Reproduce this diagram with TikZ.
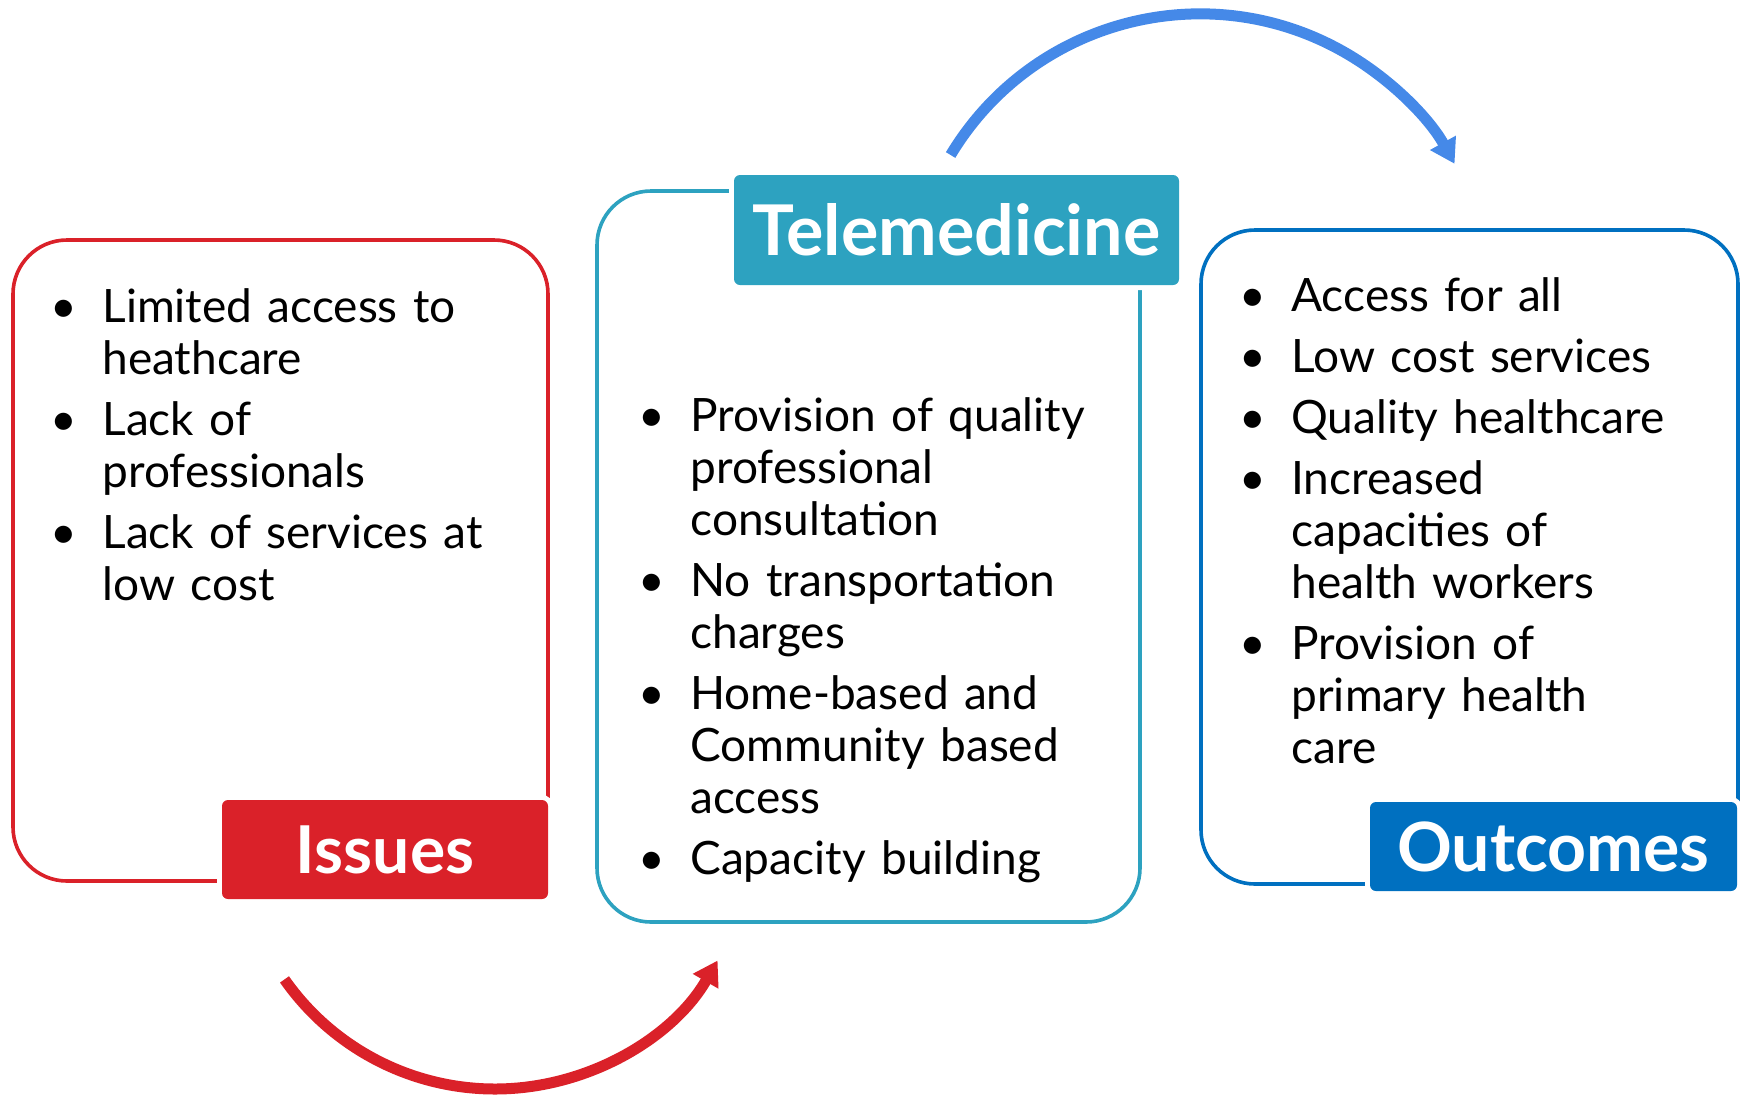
\documentclass[tikz,border=0pt]{standalone}
\usepackage{fontspec}
\setmainfont{Lato}
\usepackage{enumitem}
\usetikzlibrary{arrows.meta}
\usetikzlibrary{positioning}

\definecolor{issuered}{RGB}{218,33,41}
\definecolor{teleteal}{RGB}{45,162,192}
\definecolor{outblue}{RGB}{0,112,192}
\definecolor{arcblue}{RGB}{69,137,232}

% bullet lists inside the panels
\newlist{points}{itemize}{1}
\setlist[points]{label=\makebox[0pt]{\textbullet}, labelwidth=0pt, labelsep=19.5pt,
  leftmargin=19.5pt, itemsep=4.5pt, parsep=0pt, topsep=0pt, partopsep=0pt}

\begin{document}
\begin{tikzpicture}[x=0.5pt, y=0.5pt,
    panel/.style={draw=#1, line width=1.8pt, rounded corners=27pt, inner sep=0pt},
    tag/.style={fill=#1, text=white, rounded corners=3pt, inner sep=0pt,
      preaction={draw=white, line width=5pt}},
    items/.style={anchor=base west, inner sep=0pt, text width=270pt, align=left,
      font=\fontsize{23}{26}\selectfont},
    curved/.style={line width=5.5pt, -{Triangle[length=12pt, width=14pt]}}]
    \useasboundingbox (0,0) rectangle (1744,-1094);

    % the three panels
    \node[panel=issuered, minimum width=267.5pt, minimum height=320.5pt] (issues) at (280.5,-560.5) {};
    \node[panel=teleteal, minimum width=271.5pt, minimum height=365.5pt] (tele) at (868.5,-556.5) {};
    \node[panel=outblue, minimum width=268.5pt, minimum height=327pt] (outcomes) at (1469.5,-557) {};

    % headings sitting on the panel borders
    \node[tag=issuered, minimum width=163pt, minimum height=49.5pt,
      font=\bfseries\fontsize{33}{33}\selectfont] (issuetag) at (385,-849.5) {Issues};
    \node[tag=teleteal, minimum width=222.5pt, minimum height=55pt,
      font=\bfseries\fontsize{35}{35}\selectfont] (teletag) at (956.5,-230) {Telemedicine};
    \node[tag=outblue, minimum width=183.5pt, minimum height=44.5pt,
      font=\bfseries\fontsize{34}{34}\selectfont] (outtag) at (1553.5,-846.5) {Outcomes};

    \node[items] (issuelist) at (63,-270) {\begin{points}
      \item Limited access to\\heathcare
      \item Lack of\\professionals
      \item Lack of services at\\low cost
    \end{points}};
    \node[items] (telelist) at (651,-379) {\begin{points}
      \item Provision of quality\\professional\\consultation
      \item No transportation\\charges
      \item Home-based and\\Community based\\access
      \item Capacity building
    \end{points}};
    \node[items] (outlist) at (1252,-259) {\begin{points}
      \item Access for all
      \item Low cost services
      \item Quality healthcare
      \item Increased\\capacities of\\health workers
      \item Provision of\\primary health\\care
    \end{points}};

    % curved arrows between the panels
    \coordinate (issuefrom) at (284.5,-979.4);
    \coordinate (telefrom) at (950.6,-155);
    \draw[curved, issuered] (issuefrom) arc[start angle=215, end angle=330, radius=257];
    \draw[curved, arcblue] (telefrom) arc[start angle=149, end angle=29, radius=291];
\end{tikzpicture}
\end{document}
